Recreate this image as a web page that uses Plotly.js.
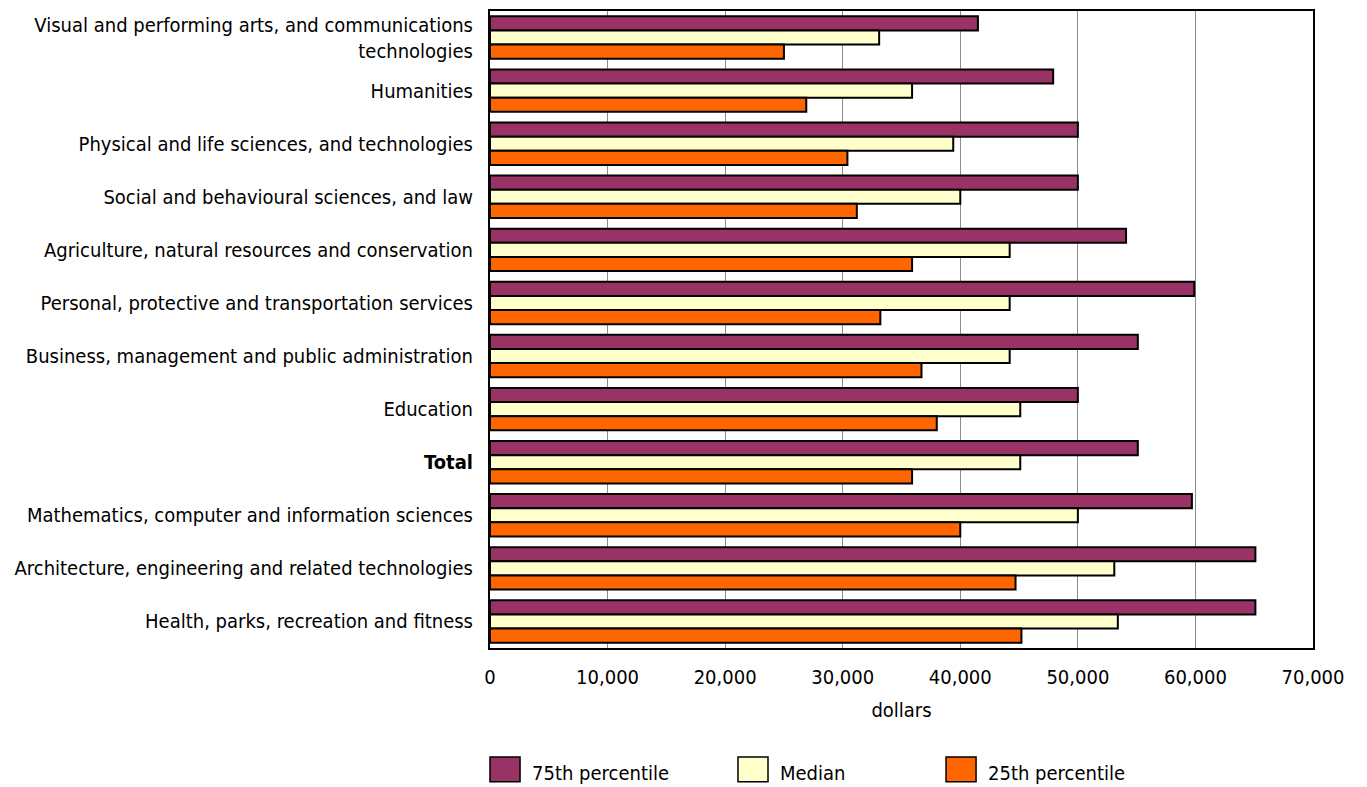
<!DOCTYPE html>
<html>
<head>
<meta charset="utf-8">
<script src="https://cdn.plot.ly/plotly-3.0.1.min.js"></script>
<style>
  html, body { margin: 0; padding: 0; background: #fff; }
  #chart { width: 1367px; height: 787px; }
</style>
</head>
<body>
<div id="chart"></div>
<script>
// Field of study, listed top to bottom
const categories = [
  'Visual and performing arts, and communications<br>technologies',
  'Humanities',
  'Physical and life sciences, and technologies',
  'Social and behavioural sciences, and law',
  'Agriculture, natural resources and conservation',
  'Personal, protective and transportation services',
  'Business, management and public administration',
  'Education',
  '<b>Total</b>',
  'Mathematics, computer and information sciences',
  'Architecture, engineering and related technologies',
  'Health, parks, recreation and fitness'
];

// Earnings in dollars
const pct75 =  [41500, 47900, 50000, 50000, 54100, 59900, 55100, 50000, 55100, 59700, 65100, 65100];
const median = [33100, 35900, 39400, 40000, 44200, 44200, 44200, 45100, 45100, 50000, 53100, 53400];
const pct25 =  [25000, 26900, 30400, 31200, 35900, 33200, 36700, 38000, 35900, 40000, 44700, 45200];

const seriesNames = ['75th percentile', 'Median', '25th percentile'];
const seriesColors = ['#993366', '#FFFFCC', '#FF6600'];
const seriesValues = [pct75, median, pct25];

const xTicks = [0, 10000, 20000, 30000, 40000, 50000, 60000, 70000];

const FONT = 'Liberation Sans Narrow, Arial Narrow, DejaVu Sans Condensed, sans-serif';

const traces = seriesValues.map((vals, i) => ({
  type: 'bar',
  orientation: 'h',
  name: seriesNames[i],
  y: categories,
  x: vals,
  marker: { color: seriesColors[i], line: { color: '#000', width: 2 } },
  hoverinfo: 'x+name'
}));

// Legend drawn as large outlined swatches beneath the axis
const legendX = [0, 0.3013, 0.5541];
const shapes = [];
const annotations = [];
seriesNames.forEach((name, i) => {
  shapes.push({
    type: 'rect', xref: 'paper', yref: 'paper',
    x0: legendX[i], x1: legendX[i] + 0.0365,
    y0: -0.210, y1: -0.171,
    fillcolor: seriesColors[i], line: { color: '#000', width: 1.5 }
  });
  annotations.push({
    xref: 'paper', yref: 'paper', x: legendX[i] + 0.049, y: -0.1955,
    xanchor: 'left', yanchor: 'middle', showarrow: false,
    text: name, font: { family: FONT, size: 20, color: '#000' }
  });
});

const layout = {
  width: 1367, height: 787,
  margin: { l: 490, r: 54, t: 11, b: 139, pad: 0 },
  paper_bgcolor: '#fff', plot_bgcolor: '#fff',
  barmode: 'group', bargap: 0.2, bargroupgap: 0,
  showlegend: false,
  font: { family: FONT, size: 20, color: '#000' },
  xaxis: {
    range: [0, 70000], tickvals: xTicks, tickformat: ',d',
    showgrid: true, gridcolor: '#8c8c8c', gridwidth: 1,
    showline: true, linecolor: '#000', linewidth: 2, mirror: true,
    ticks: '', ticklabelstandoff: 10, zeroline: false,
    title: { text: 'dollars', standoff: 15, font: { family: FONT, size: 20 } },
    fixedrange: true
  },
  yaxis: {
    type: 'category', autorange: 'reversed',
    showgrid: false, showline: true, linecolor: '#000', linewidth: 2, mirror: true,
    ticks: '', ticklabelstandoff: 11,
    fixedrange: true
  },
  shapes: shapes,
  annotations: annotations
};

Plotly.newPlot('chart', traces, layout, { displayModeBar: false, staticPlot: true });
</script>
</body>
</html>
